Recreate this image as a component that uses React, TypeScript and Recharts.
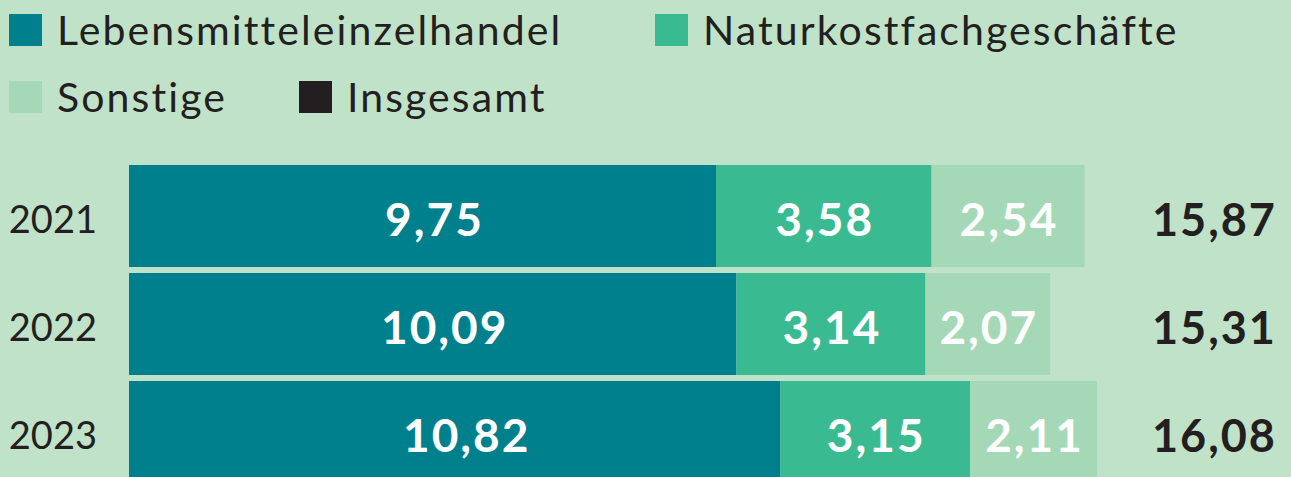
import React from 'react';
import { BarChart, Bar, XAxis, YAxis, LabelList } from 'recharts';

const years = ['2021', '2022', '2023'];
const lebensmittel = [9.75, 10.09, 10.82];
const naturkost = [3.58, 3.14, 3.15];
const sonstige = [2.54, 2.07, 2.11];
const insgesamt = [15.87, 15.31, 16.08];

const COLORS = {
    lebensmittel: '#007f8c',
    naturkost: '#3aba91',
    sonstige: '#a4d8b6',
    insgesamt: '#231f20',
};

const legendItems = [
    { name: 'Lebensmitteleinzelhandel', color: COLORS.lebensmittel, x: 9, y: 14 },
    { name: 'Naturkostfachgeschäfte', color: COLORS.naturkost, x: 655, y: 14 },
    { name: 'Sonstige', color: COLORS.sonstige, x: 9, y: 81 },
    { name: 'Insgesamt', color: COLORS.insgesamt, x: 299, y: 81 },
];

const data = years.map((year, i) => ({
    year,
    lebensmittel: lebensmittel[i],
    naturkost: naturkost[i],
    sonstige: sonstige[i],
}));

const FONT = 'Lato, "Noto Sans", sans-serif';
const fmt = (v: number) => v.toFixed(2).replace('.', ',');

const barLabel = {
    position: 'center' as const,
    formatter: (v: number) => fmt(v),
    fill: '#ffffff',
    fontSize: 46,
    fontWeight: 700,
    fontFamily: FONT,
    letterSpacing: 2,
    dy: 4,
    dx: 1,
};

export default function App() {
    return (
        <div style={{ position: 'absolute', left: 0, top: 0, width: 1291, height: 477, overflow: 'hidden', background: '#bfe2c8', fontFamily: FONT }}>
            {legendItems.map((item) => (
                <div key={item.name} style={{ position: 'absolute', left: item.x, top: item.y, display: 'flex', alignItems: 'center', height: 32 }}>
                    <div style={{ width: 33, height: 32, background: item.color }} />
                    <span style={{ marginLeft: 15, fontSize: 41, letterSpacing: 2.1, color: '#231f20', lineHeight: '32px' }}>{item.name}</span>
                </div>
            ))}

            <BarChart
                width={1291}
                height={500}
                data={data}
                layout="vertical"
                margin={{ top: 162, right: 0, bottom: 14, left: 0 }}
                barCategoryGap={3}
                style={{ position: 'absolute', left: 0, top: 0 }}
            >
                <XAxis type="number" domain={[0, 16.61]} hide allowDataOverflow />
                <YAxis
                    yAxisId="left"
                    type="category"
                    dataKey="year"
                    width={129}
                    axisLine={false}
                    tickLine={false}
                    tickSize={0}
                    tickMargin={32}
                    tick={{ fill: '#231f20', fontSize: 38, fontFamily: FONT, dy: 4 }}
                />
                <YAxis
                    yAxisId="right"
                    orientation="right"
                    type="category"
                    dataKey="year"
                    width={162}
                    axisLine={false}
                    tickLine={false}
                    tickSize={0}
                    tickMargin={23}
                    tickFormatter={(_v: string, i: number) => fmt(insgesamt[i])}
                    tick={{ fill: '#231f20', fontSize: 45, fontWeight: 700, fontFamily: FONT, letterSpacing: 2, dy: 4 }}
                />
                <Bar yAxisId="left" dataKey="lebensmittel" stackId="a" fill={COLORS.lebensmittel} isAnimationActive={false}>
                    <LabelList dataKey="lebensmittel" {...barLabel} dx={12} />
                </Bar>
                <Bar yAxisId="left" dataKey="naturkost" stackId="a" fill={COLORS.naturkost} isAnimationActive={false}>
                    <LabelList dataKey="naturkost" {...barLabel} />
                </Bar>
                <Bar yAxisId="left" dataKey="sonstige" stackId="a" fill={COLORS.sonstige} isAnimationActive={false}>
                    <LabelList dataKey="sonstige" {...barLabel} />
                </Bar>
            </BarChart>
        </div>
    );
}
